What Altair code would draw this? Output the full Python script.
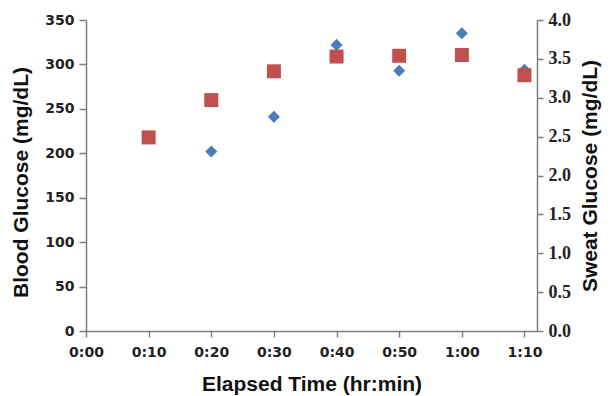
import altair as alt
import pandas as pd

# Elapsed time in minutes
blood_time = [20, 30, 40, 50, 60, 70]
blood_glucose = [202, 241, 322, 293, 335, 294]

sweat_time = [10, 20, 30, 40, 50, 60, 70]
sweat_glucose = [2.49, 2.97, 3.34, 3.53, 3.54, 3.55, 3.29]

x_ticks = [0, 10, 20, 30, 40, 50, 60, 70]
left_ticks = [0, 50, 100, 150, 200, 250, 300, 350]
right_ticks = [0, 0.5, 1, 1.5, 2, 2.5, 3, 3.5, 4]

blood_df = pd.DataFrame({"t": blood_time, "v": blood_glucose})
sweat_df = pd.DataFrame({"t": sweat_time, "v": sweat_glucose})

label_expr = "floor(datum.value/60) + ':' + (datum.value % 60 < 10 ? '0' : '') + (datum.value % 60)"

AXIS_GRAY = "#7f7f7f"

x_enc = alt.X(
    "t:Q",
    scale=alt.Scale(domain=[0, 72], nice=False, zero=True),
    axis=alt.Axis(
        values=x_ticks,
        labelExpr=label_expr,
        labelFlush=False,
        labelOverlap=False,
        title="Elapsed Time (hr:min)",
        grid=False,
        labelFont="DejaVu Sans",
        labelFontWeight="bold",
        labelFontSize=14,
        labelColor="#222222",
        titleFont="Liberation Sans",
        titleFontWeight="bold",
        titleFontSize=21,
        titleColor="#111111",
        titlePadding=14,
        domainColor=AXIS_GRAY,
        domainWidth=1.5,
        tickColor=AXIS_GRAY,
        tickWidth=1.5,
        tickSize=6,
        labelPadding=8,
    ),
)

blood = alt.Chart(blood_df).mark_point(
    shape="diamond", filled=True, size=145, color="#4a7ebb", opacity=1
).encode(
    x=x_enc,
    y=alt.Y(
        "v:Q",
        scale=alt.Scale(domain=[0, 350], nice=False),
        axis=alt.Axis(
            values=left_ticks,
            labelFlush=False,
            labelOverlap=False,
            title="Blood Glucose (mg/dL)",
            orient="left",
            grid=False,
            labelFont="DejaVu Sans",
            labelFontWeight="bold",
            labelFontSize=14,
            labelColor="#222222",
            titleFont="Liberation Sans",
            titleFontWeight="bold",
            titleFontSize=21,
            titleColor="#111111",
            titlePadding=13,
            titleY=162,
            domainColor=AXIS_GRAY,
            domainWidth=1.5,
            tickColor=AXIS_GRAY,
            tickWidth=1.5,
            tickSize=7,
            labelPadding=5,
        ),
    ),
)

sweat = alt.Chart(sweat_df).mark_point(
    shape="square", filled=True, size=196, color="#c0504d", opacity=1
).encode(
    x=x_enc,
    y=alt.Y(
        "v:Q",
        scale=alt.Scale(domain=[0, 4], nice=False),
        axis=alt.Axis(
            values=right_ticks,
            format=".1f",
            labelFlush=False,
            labelOverlap=False,
            title="Sweat Glucose (mg/dL)",
            orient="right",
            grid=False,
            labelFont="Liberation Serif",
            labelFontWeight="bold",
            labelFontSize=18,
            labelColor="#222222",
            titleFont="Liberation Sans",
            titleFontWeight="bold",
            titleFontSize=21,
            titleColor="#111111",
            titleAngle=270,
            titleBaseline="top",
            titlePadding=9,
            domainColor=AXIS_GRAY,
            domainWidth=1.5,
            tickColor=AXIS_GRAY,
            tickWidth=1.5,
            tickSize=6,
            labelPadding=5,
        ),
    ),
)

chart = (
    alt.layer(blood, sweat)
    .resolve_scale(y="independent")
    .properties(
        width=451,
        height=311,
        background="white",
        autosize=alt.AutoSizeParams(type="none"),
        padding={"left": 78, "top": 12, "right": 66, "bottom": 65},
    )
    .configure_view(stroke=None)
)

chart.save("out.html", embed_options={"renderer": "svg", "actions": False})
